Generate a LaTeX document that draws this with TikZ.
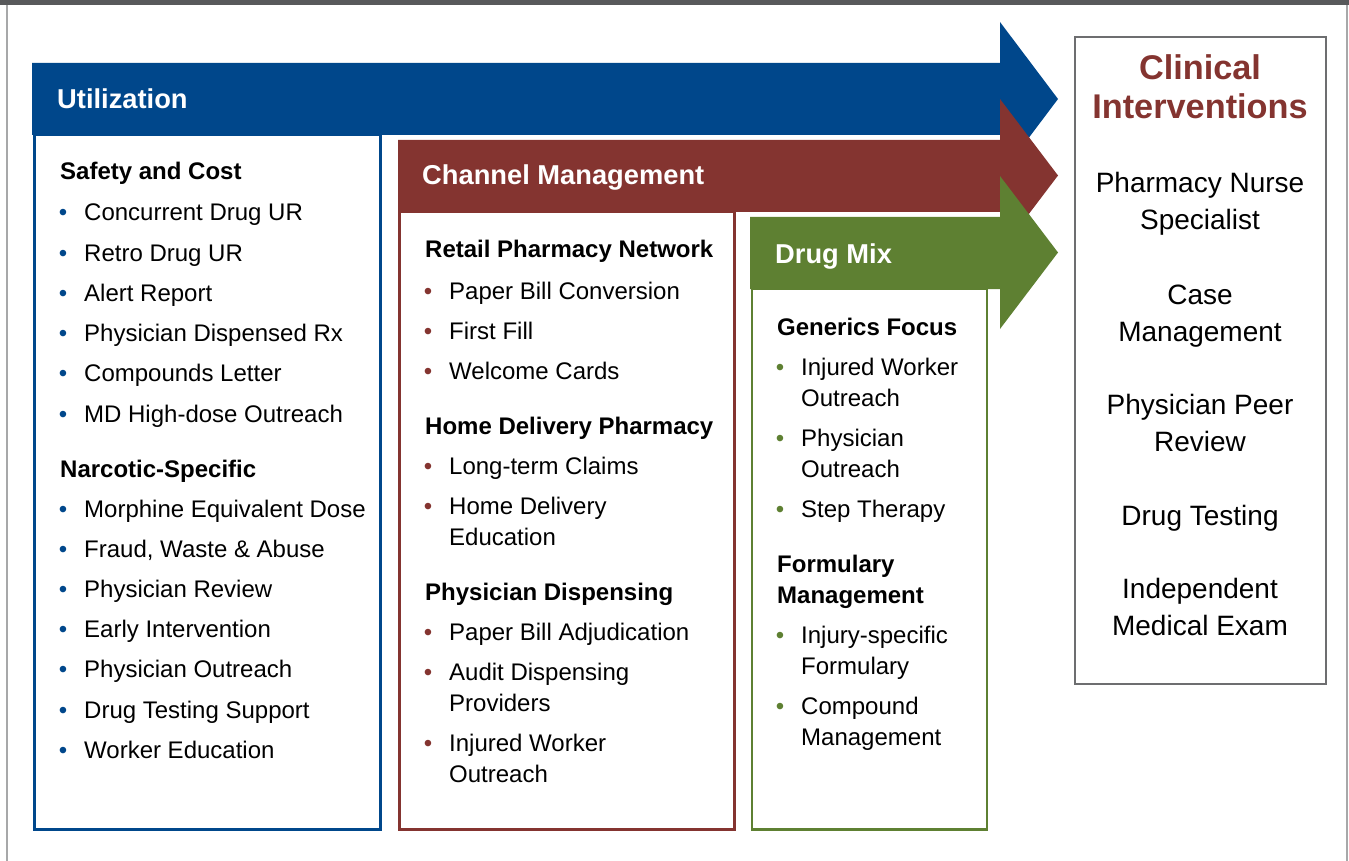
\documentclass[tikz,border=0pt]{standalone}
\usepackage{fontspec}
\setmainfont{Liberation Sans}
\usepackage{xcolor}
\definecolor{ublue}{HTML}{00478B}
\definecolor{cred}{HTML}{843430}
\definecolor{dgreen}{HTML}{5E8032}
\definecolor{topbar}{HTML}{58595B}
\definecolor{cgrey}{HTML}{6D6E70}
% two-line texts, baseline at the first line
\newcommand{\ltwo}[2]{\vtop{\hbox{#1}\hbox{#2}}}
\newcommand{\ctwo}[2]{\vtop{\halign{\hfil##\hfil\cr#1\cr#2\cr}}}
\newcommand{\bul}[1]{\llap{\textcolor{#1}{\textbullet}\hspace{17pt}}}
\tikzset{
 title/.style={anchor=base west, inner sep=0, text=white, font=\bfseries\fontsize{27.3}{31}\selectfont},
 head/.style={anchor=base west, inner sep=0, font=\bfseries\fontsize{24}{31}\selectfont},
 item/.style={anchor=base west, inner sep=0, font=\fontsize{24}{31}\selectfont},
 clin/.style={anchor=base, inner sep=0, font=\fontsize{28}{37}\selectfont},
}

\begin{document}
\begin{tikzpicture}[x=1pt, y=-1pt]
\useasboundingbox (0,0) rectangle (1349,861);
\fill[topbar] (0,0) rectangle (1349,5);
\draw[cgrey!60, line width=1.2pt] (7,5) -- (7,861);
\draw[cgrey!60, line width=1.2pt] (1347,5) -- (1347,861);

% Utilization
\draw[ublue, line width=2.5pt, fill=white] (34.5,135) rectangle (380.5,829.5);
\fill[ublue] (32,63) -- (1000,63) -- (1000,22) -- (1058,99) -- (1000,176) -- (1000,135) -- (32,135) -- cycle;
\node[title] (util) at (57,109) {Utilization};
\node[head] (safe) at (60,180) {Safety and Cost};
\foreach \t [count=\i] in {Concurrent Drug UR, Retro Drug UR, Alert Report, Physician Dispensed Rx, Compounds Letter, MD High-dose Outreach}
 \node[item] (sc\i) at (84,180.8+40.2*\i) {\bul{ublue}\t};
\node[head] (narc) at (60,477) {Narcotic-Specific};
\foreach \t [count=\i] in {Morphine Equivalent Dose, {Fraud, Waste \& Abuse}, Physician Review, Early Intervention, Physician Outreach, Drug Testing Support, Worker Education}
 \node[item] (ns\i) at (84,476.8+40.2*\i) {\bul{ublue}\t};

% Channel Management
\draw[cred, line width=2.5pt, fill=white] (399.5,212) rectangle (734.5,829.5);
\fill[cred] (398,140) -- (1000,140) -- (1000,99) -- (1058,175.5) -- (1000,252) -- (1000,212) -- (398,212) -- cycle;
\node[title] (chan) at (422,185) {Channel Management};
\node[head] (retail) at (425,258) {Retail Pharmacy Network};
\node[head] (home) at (425,434) {Home Delivery Pharmacy};
\node[head] (disp) at (425,600) {Physician Dispensing};
\foreach \y/\t [count=\i] in {299/Paper Bill Conversion, 339/First Fill, 379/Welcome Cards, 474/Long-term Claims, 514/\ltwo{Home Delivery}{Education}, 640/Paper Bill Adjudication, 680/\ltwo{Audit Dispensing}{Providers}, 751/\ltwo{Injured Worker}{Outreach}}
 \node[item] (cm\i) at (449,\y) {\bul{cred}\t};

% Drug Mix
\draw[dgreen, line width=2.5pt, fill=white] (752,289) rectangle (987,829.5);
\fill[dgreen] (750,217) -- (1000,217) -- (1000,176) -- (1058,252.5) -- (1000,329) -- (1000,289) -- (750,289) -- cycle;
\node[title] (mix) at (775,263) {Drug Mix};
\node[head] (gen) at (777,335) {Generics Focus};
\node[head] (form) at (777,572) {\ltwo{Formulary}{Management}};
\foreach \y/\t [count=\i] in {375/\ltwo{Injured Worker}{Outreach}, 446/\ltwo{Physician}{Outreach}, 517/Step Therapy, 643/\ltwo{Injury-specific}{Formulary}, 714/\ltwo{Compound}{Management}}
 \node[item] (dm\i) at (801,\y) {\bul{dgreen}\t};

% Clinical Interventions
\draw[cgrey, line width=2pt] (1075,37) rectangle (1325.5,683.5);
\node[clin, text=cred, font=\bfseries\fontsize{34.3}{39}\selectfont] (clin) at (1200,80) {\ctwo{Clinical}{Interventions}};
\node[clin] (nurse) at (1200,193) {\ctwo{Pharmacy Nurse}{Specialist}};
\node[clin] (case) at (1200,304) {\ctwo{Case}{Management}};
\node[clin] (peer) at (1200,414) {\ctwo{Physician Peer}{Review}};
\node[clin] (test) at (1200,525) {Drug Testing};
\node[clin] (ime) at (1200,598) {\ctwo{Independent}{Medical Exam}};
\end{tikzpicture}
\end{document}
